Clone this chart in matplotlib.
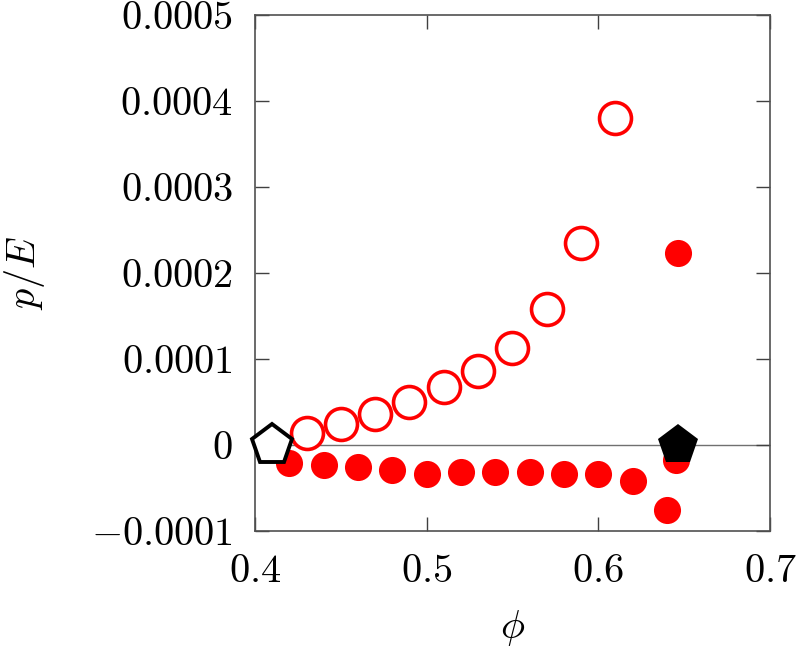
import matplotlib.pyplot as plt
import numpy as np

plt.rcParams['mathtext.fontset'] = 'cm'
plt.rcParams['font.family'] = 'cmr10'
plt.rcParams['axes.unicode_minus'] = True

# open circles
phi_open = [0.43, 0.45, 0.47, 0.49, 0.51, 0.53, 0.55, 0.57, 0.59, 0.61]
p_open = [0.0000140, 0.0000244, 0.0000360, 0.0000500, 0.0000674,
          0.0000860, 0.0001130, 0.0001580, 0.0002350, 0.0003800]

# filled circles
phi_fill = [0.42, 0.44, 0.46, 0.48, 0.50, 0.52, 0.54, 0.56, 0.58, 0.60,
            0.62, 0.64, 0.6455, 0.6465]
p_fill = [-0.0000209, -0.0000230, -0.0000256, -0.0000290, -0.0000337,
          -0.0000314, -0.0000314, -0.0000314, -0.0000337, -0.0000337,
          -0.0000419, -0.0000756, -0.0000174, 0.0002230]

# pentagons
phi_pent_open, p_pent_open = [0.41], [0.0]
phi_pent_fill, p_pent_fill = [0.6462], [0.0]

xticks = [0.4, 0.5, 0.6, 0.7]
xticklabels = ['$0.4$', '$0.5$', '$0.6$', '$0.7$']
yticks = [-0.0001, 0.0, 0.0001, 0.0002, 0.0003, 0.0004, 0.0005]
yticklabels = ['$-0.0001$', '$0$', '$0.0001$', '$0.0002$', '$0.0003$',
               '$0.0004$', '$0.0005$']

fig = plt.figure(figsize=(7.97, 6.51), dpi=100)
ax = fig.add_axes([0.320, 0.1843, 0.646, 0.7927])

ax.axhline(0, color='#707070', lw=1.0, zorder=1)

ax.plot(phi_open, p_open, 'o', ms=23, mfc='white', mec='#ff0000', mew=2.6,
        ls='none', zorder=3, clip_on=False)
ax.plot(phi_fill, p_fill, 'o', ms=19.5, mfc='#ff0000', mec='#ff0000', mew=0,
        ls='none', zorder=3, clip_on=False)
ax.plot(phi_pent_open, p_pent_open, 'p', ms=30, mfc='white', mec='black', mew=2.8,
        ls='none', zorder=4, clip_on=False)
ax.plot(phi_pent_fill, p_pent_fill, 'p', ms=30, mfc='black', mec='black', mew=0,
        ls='none', zorder=4, clip_on=False)

ax.set_xlim(0.4, 0.7)
ax.set_ylim(-0.0001, 0.0005)
ax.set_xticks(xticks)
ax.set_xticklabels(xticklabels)
ax.set_yticks(yticks)
ax.set_yticklabels(yticklabels)

ax.tick_params(direction='in', length=10, width=1, top=True, right=True,
               labelsize=29, color='#404040')
ax.tick_params(axis='y', pad=16)
ax.tick_params(axis='x', pad=17)
for s in ax.spines.values():
    s.set_color('#505050')
    s.set_linewidth(1.2)

ax.set_xlabel(r'$\phi$', fontsize=29)
ax.set_ylabel(r'$p/E$', fontsize=29)
ax.xaxis.set_label_coords(0.5, -0.15)
ax.yaxis.set_label_coords(-0.405, 0.5)

fig.savefig('out.png', dpi=100)
